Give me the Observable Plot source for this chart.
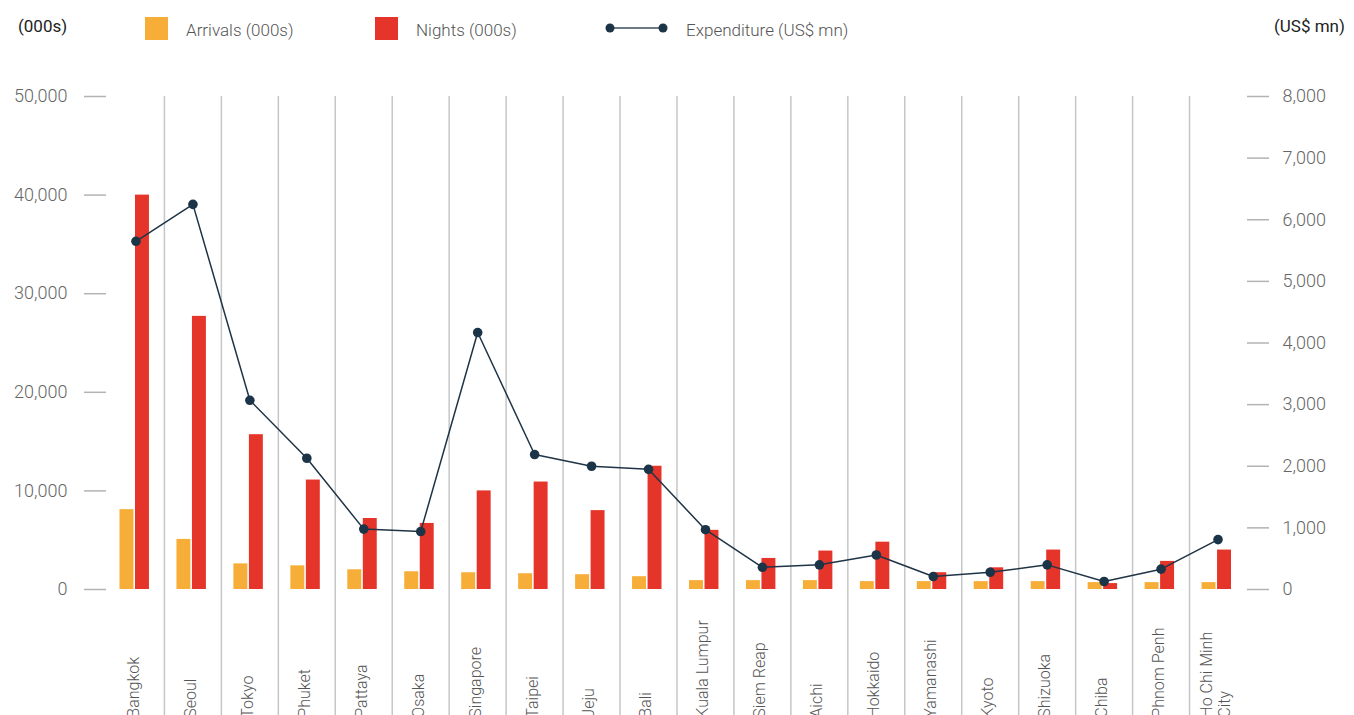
<!DOCTYPE html>
<html>
<head>
<meta charset="utf-8">
<script src="https://cdn.jsdelivr.net/npm/d3@7"></script>
<script src="https://cdn.jsdelivr.net/npm/@observablehq/plot@0.6"></script>
<style>
  html, body { margin: 0; padding: 0; background: #fff; overflow: hidden; }
  #wrap { position: relative; width: 1354px; height: 715px; font-family: Roboto, "Liberation Sans", sans-serif; }
  #legend { position: relative; width: 1354px; height: 60px; }
  #legend .t { position: absolute; font-size: 17px; font-weight: 300; color: #555; top: 20px; white-space: nowrap; }
  #legend .unit { position: absolute; font-size: 17px; font-weight: 400; color: #222; top: 16px; white-space: nowrap; }
  #legend .sw { position: absolute; width: 23px; height: 23px; top: 17px; }
  #chart svg { display: block; overflow: visible; }
</style>
</head>
<body>
<div id="wrap">
  <div id="legend"></div>
  <div id="chart"></div>
</div>
<script>
const cities = ["Bangkok","Seoul","Tokyo","Phuket","Pattaya","Osaka","Singapore","Taipei","Jeju","Bali","Kuala Lumpur","Siem Reap","Aichi","Hokkaido","Yamanashi","Kyoto","Shizuoka","Chiba","Phnom Penh","Ho Chi Minh City"];
const cityLabels = ["Bangkok","Seoul","Tokyo","Phuket","Pattaya","Osaka","Singapore","Taipei","Jeju","Bali","Kuala Lumpur","Siem Reap","Aichi","Hokkaido","Yamanashi","Kyoto","Shizuoka","Chiba","Phnom Penh","Ho Chi Minh\nCity"];
const arrivals = [8100,5080,2600,2400,2000,1800,1700,1600,1500,1300,900,900,900,800,800,800,800,700,700,700];
const nights = [40000,27700,15700,11100,7200,6700,10000,10900,8000,12500,6000,3150,3900,4800,1700,2200,4000,600,2850,4000];
const expenditure = [5650,6250,3070,2130,980,940,4170,2190,2000,1950,970,360,400,560,210,280,400,130,330,810];
const leftTicks = [0,10000,20000,30000,40000,50000];
const rightTicks = [0,1000,2000,3000,4000,5000,6000,7000,8000];
const seriesNames = ["Arrivals (000s)","Nights (000s)","Expenditure (US$ mn)"];
const leftUnit = "(000s)";
const rightUnit = "(US$ mn)";

const colors = {arr: "#F7AE38", night: "#E5352A", exp: "#1C3447"};
const ratio = 50000 / 8000;

const data = cities.map((c, i) => ({city: c, label: cityLabels[i], arrivals: arrivals[i], nights: nights[i], expenditure: expenditure[i]}));

// legend
const legend = document.getElementById("legend");
legend.innerHTML = `
  <span class="unit" style="left:18px">${leftUnit}</span>
  <span class="sw" style="left:145px;background:${colors.arr}"></span>
  <span class="t" style="left:186px">${seriesNames[0]}</span>
  <span class="sw" style="left:375px;background:${colors.night}"></span>
  <span class="t" style="left:416px">${seriesNames[1]}</span>
  <svg style="position:absolute;left:600px;top:18px" width="72" height="20">
    <line x1="10" x2="63" y1="10" y2="10" stroke="#3d4f5e" stroke-width="1.5"/>
    <circle cx="10" cy="10" r="4.5" fill="${colors.exp}"/>
    <circle cx="63" cy="10" r="4.5" fill="${colors.exp}"/>
  </svg>
  <span class="t" style="left:686px">${seriesNames[2]}</span>
  <span class="unit" style="left:1274px">${rightUnit}</span>
`;

const fmt = d3.format(",");
const chart = Plot.plot({
  width: 1354,
  height: 655,
  marginTop: 36,
  marginBottom: 126,
  marginLeft: 107,
  marginRight: 108,
  style: {fontFamily: "Roboto, 'Liberation Sans', sans-serif", fontWeight: 300, background: "transparent"},
  x: {type: "band", domain: cities, padding: 0, round: false, axis: null},
  y: {domain: [0, 50000], axis: null},
  marks: [
    Plot.ruleX(cities.slice(1), {x: d => d, y1: 50000, y2: -14000, dx: -28.5, stroke: "#c6c6c6", strokeWidth: 1.5}),
    Plot.axisY(leftTicks, {anchor: "left", tickSize: 22, tickPadding: 17, dx: -1, stroke: "#b3b3b3", strokeWidth: 1.5, fill: "#666", fontSize: 18, tickFormat: d => fmt(d)}),
    Plot.axisY(rightTicks.map(v => v * ratio), {anchor: "right", tickSize: 22, tickPadding: 14, stroke: "#b3b3b3", strokeWidth: 1.5, fill: "#666", fontSize: 18, tickFormat: d => fmt(Math.round(d / ratio))}),
    Plot.barY(data, {x: "city", y: "arrivals", fill: colors.arr, insetLeft: 12.5, insetRight: 30.5}),
    Plot.barY(data, {x: "city", y: "nights", fill: colors.night, insetLeft: 28, insetRight: 15}),
    Plot.line(data, {x: "city", y: d => d.expenditure * ratio, stroke: "#1f3446", strokeWidth: 1.5}),
    Plot.dot(data, {x: "city", y: d => d.expenditure * ratio, r: 4.8, fill: colors.exp}),
    Plot.text(data, {x: "city", y: () => -13000, text: "label", rotate: -90, textAnchor: "start", lineAnchor: "middle", lineHeight: 1.15, dx: -3, fontSize: 16, fill: "#555"})
  ]
});
document.getElementById("chart").appendChild(chart);
</script>
</body>
</html>
